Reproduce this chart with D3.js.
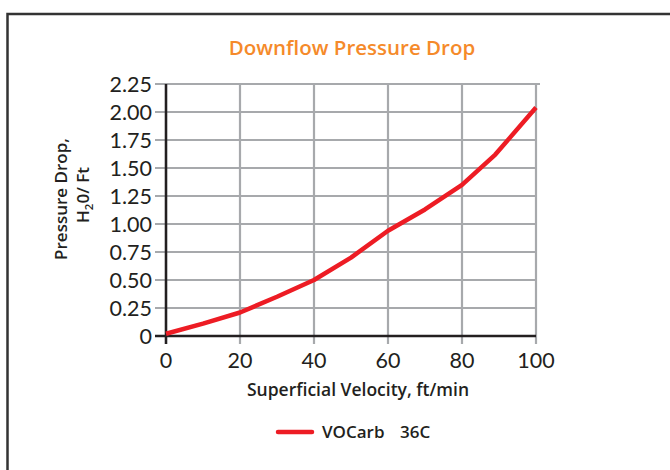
<!DOCTYPE html>
<html>
<head>
<meta charset="utf-8">
<script src="https://cdn.jsdelivr.net/npm/d3@7"></script>
<style>
  html, body { margin: 0; padding: 0; background: #fff; }
  svg { display: block; }
</style>
</head>
<body>
<script>
const velocity = [0, 10, 20, 30, 40, 50, 60, 70, 80, 89, 100];
const pressureDrop = [0.02, 0.11, 0.21, 0.35, 0.50, 0.70, 0.94, 1.13, 1.35, 1.62, 2.04];
const yTicks = [0, 0.25, 0.5, 0.75, 1.0, 1.25, 1.5, 1.75, 2.0, 2.25];
const yTickLabels = ["0", "0.25", "0.50", "0.75", "1.00", "1.25", "1.50", "1.75", "2.00", "2.25"];
const xTicks = [0, 20, 40, 60, 80, 100];
const seriesName = ["VOCarb", "36C"];
const titleText = "Downflow Pressure Drop";
const xTitle = "Superficial Velocity, ft/min";

const W = 670, H = 470;
const svg = d3.select("body").append("svg").attr("width", W).attr("height", H);

// frame
svg.append("rect").attr("x", 7.5).attr("y", 14).attr("width", 720).attr("height", 520)
  .attr("fill", "none").attr("stroke", "#333").attr("stroke-width", 2.5);

const x = d3.scaleLinear().domain([0, 100]).range([166, 536]);
const y = d3.scaleLinear().domain([0, 2.25]).range([336, 84]);

const labelFont = "Lato, 'DejaVu Sans', sans-serif";
const boldFont = "'Open Sans', 'DejaVu Sans', sans-serif";
const textColor = "#231f20";
const gridColor = "#a7a9ac";

// title
svg.append("text").attr("x", 352).attr("y", 55).attr("text-anchor", "middle")
  .attr("font-family", boldFont).attr("font-weight", 600).attr("font-size", 20.5)
  .attr("fill", "#f58a2a").text(titleText);

// horizontal grid
svg.append("g").selectAll("line").data(yTicks).join("line")
  .attr("x1", 155).attr("x2", (d, i) => i === yTicks.length - 1 ? 540 : 536)
  .attr("y1", d => y(d)).attr("y2", d => y(d))
  .attr("stroke", gridColor).attr("stroke-width", 2.2);

// vertical grid
svg.append("g").selectAll("line").data(xTicks).join("line")
  .attr("x1", d => x(d)).attr("x2", d => x(d))
  .attr("y1", y(2.25)).attr("y2", 344)
  .attr("stroke", gridColor).attr("stroke-width", 2.2);

// axes lines
svg.append("line").attr("x1", x(0)).attr("x2", x(0)).attr("y1", y(2.25)).attr("y2", 344)
  .attr("stroke", textColor).attr("stroke-width", 2.5);
svg.append("line").attr("x1", 155).attr("x2", x(100)).attr("y1", y(0)).attr("y2", y(0))
  .attr("stroke", textColor).attr("stroke-width", 2.5);

// y tick labels
svg.append("g").selectAll("text").data(yTicks).join("text")
  .attr("x", 152).attr("y", d => y(d)).attr("dy", "0.36em")
  .attr("text-anchor", "end").attr("font-family", labelFont).attr("font-weight", 400)
  .attr("font-size", 21.5).attr("fill", textColor)
  .text((d, i) => yTickLabels[i]);

// x tick labels
svg.append("g").selectAll("text").data(xTicks).join("text")
  .attr("x", d => x(d)).attr("y", 368)
  .attr("text-anchor", "middle").attr("font-family", labelFont).attr("font-weight", 400)
  .attr("font-size", 21.5).attr("fill", textColor)
  .text(d => d);

// x axis title
svg.append("text").attr("x", 358).attr("y", 396).attr("text-anchor", "middle")
  .attr("font-family", boldFont).attr("font-weight", 600).attr("font-size", 17.5)
  .attr("fill", textColor).text(xTitle);

// y axis title
const yt = svg.append("text").attr("transform", "translate(67,199) rotate(-90)")
  .attr("text-anchor", "middle").attr("font-family", boldFont).attr("font-weight", 600)
  .attr("font-size", 17).attr("fill", textColor);
yt.append("tspan").attr("x", 0).attr("y", 0).text("Pressure Drop,");
const l2 = svg.append("text").attr("transform", "translate(89,195) rotate(-90)")
  .attr("text-anchor", "middle").attr("font-family", boldFont).attr("font-weight", 600)
  .attr("font-size", 17).attr("fill", textColor);
l2.append("tspan").text("H");
l2.append("tspan").attr("font-size", 11.5).attr("dy", 4).text("2");
l2.append("tspan").attr("dy", -4).text("0/ Ft");

// data line
const line = d3.line().x((d, i) => x(velocity[i])).y(d => y(d));
svg.append("path").datum(pressureDrop).attr("d", line)
  .attr("fill", "none").attr("stroke", "#ed1c24").attr("stroke-width", 4.5)
  .attr("stroke-linejoin", "round");

// legend
svg.append("line").attr("x1", 278).attr("x2", 312).attr("y1", 432).attr("y2", 432)
  .attr("stroke", "#ed1c24").attr("stroke-width", 4.5).attr("stroke-linecap", "round");
const lt = svg.append("text").attr("y", 438)
  .attr("font-family", boldFont).attr("font-weight", 600).attr("font-size", 17)
  .attr("fill", textColor);
lt.append("tspan").attr("x", 322).text(seriesName[0]);
lt.append("tspan").attr("x", 400).text(seriesName[1]);
</script>
</body>
</html>
